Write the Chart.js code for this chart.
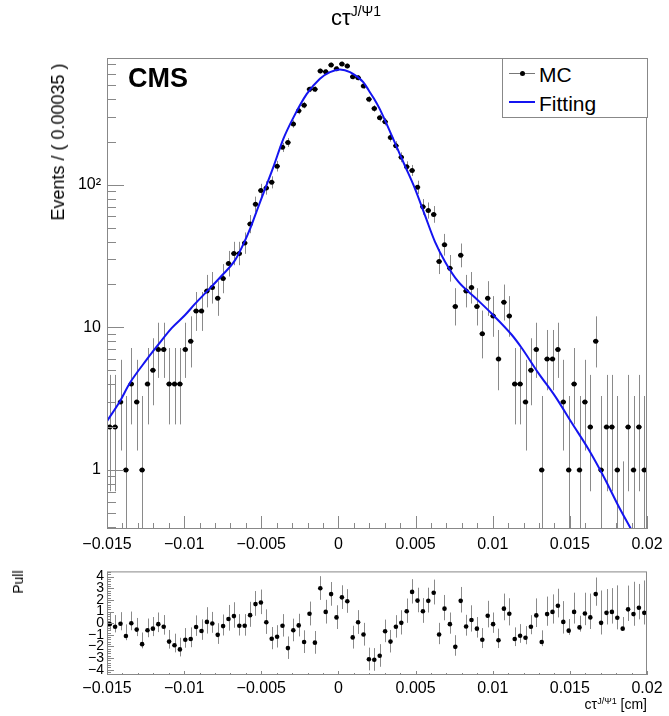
<!DOCTYPE html>
<html>
<head>
<meta charset="utf-8">
<script src="https://cdn.jsdelivr.net/npm/chart.js@4/dist/chart.umd.min.js"></script>
<style>
  body { margin: 0; background: #fff; width: 669px; height: 716px; position: relative; overflow: hidden;
         font-family: "Liberation Sans", Arial, sans-serif; }
  canvas { position: absolute; left: 0; }
  .t { position: absolute; white-space: nowrap; color: #000; line-height: 1; }
  .sup { position: relative; }
</style>
</head>
<body>
<canvas id="main" width="669" height="560" style="top:0"></canvas>
<canvas id="pull" width="669" height="156" style="top:560px"></canvas>

<div class="t" style="left:331px;top:7px;font-size:22px">cτ<span class="sup" style="font-size:14px;top:-9px">J/Ψ1</span></div>
<div class="t" style="left:128px;top:65px;font-size:27px;font-weight:bold">CMS</div>
<div class="t" style="left:58px;top:142px;font-size:18px;transform:translate(-50%,-50%) rotate(-90deg)">Events / ( 0.00035 )</div>
<div class="t" style="left:18px;top:582px;font-size:14px;transform:translate(-50%,-50%) rotate(-90deg)">Pull</div>
<div class="t" style="right:22px;top:697px;font-size:14px">cτ<span class="sup" style="font-size:9px;top:-5px">J/Ψ1</span> [cm]</div>

<div style="position:absolute;left:502px;top:58px;width:144px;height:58px;border:1px solid #888;background:#fff">
  <div style="position:absolute;left:6px;top:14px;width:26px;height:1px;background:#777"></div>
  <div style="position:absolute;left:17px;top:12px;width:5px;height:5px;border-radius:50%;background:#000"></div>
  <div class="t" style="left:36px;top:5px;font-size:21px">MC</div>
  <div style="position:absolute;left:6px;top:42px;width:26px;height:2px;background:#1414f0"></div>
  <div class="t" style="left:36px;top:34px;font-size:21px">Fitting</div>
</div>

<script>
/* ============================================================
   DATOS
============================================================ */
const X_MIN = -0.015;
const X_MAX = 0.02;
const BIN_LO = -0.015;
const BIN_WIDTH = 0.00035;

const X_TICKS = [-0.015, -0.01, -0.005, 0, 0.005, 0.01, 0.015, 0.02];
const X_TICK_LABELS = ["\u22120.015", "\u22120.01", "\u22120.005", "0", "0.005", "0.01", "0.015", "0.02"];

const Y_MIN = 0.385;
const Y_MAX = 775;
const Y_TICKS = [1, 10, 100];
const Y_TICK_LABELS = ["1", "10", "10\u00b2"];

const PULL_MIN = -4.45;
const PULL_MAX = 4.45;
const PULL_TICKS = [-4, -3, -2, -1, 0, 1, 2, 3, 4];
const PULL_TICK_LABELS = ["\u22124", "\u22123", "\u22122", "\u22121", "0", "1", "2", "3", "4"];

// eventos MC por bin (100 bins)
const COUNTS = [
    2, 2, 3, 1, 4, 3, 1, 4, 5, 7,
    7, 4, 4, 4, 7, 8, 13, 13, 18, 19,
    16, 22, 28, 33, 33, 39, 53, 73, 91, 95,
    104, 135, 183, 198, 267, 330, 362, 468, 468, 628,
    620, 692, 652, 703, 681, 573, 564, 493, 398, 343,
    295, 277, 215, 188, 156, 134, 126, 96, 70, 66,
    62, 29, 38, 26, 14, 32, 18, 19, 14, 9,
    16, 12, 6, 15, 12, 4, 4, 3, 5, 7,
    1, 6, 6, 7, 3, 1, 4, 1, 3, 2,
    8, 1, 2, 2, 1, 0, 2, 1, 2, 1
];

// pull por bin
const PULLS = [
    -0.08, -0.3, -0.05, -1.1, 0.0, -0.55, -1.8, -0.6, -0.47, -0.08,
    -0.3, -1.58, -1.9, -2.25, -1.42, -1.36, -0.33, -0.67, 0.11, -0.03,
    -1.0, -0.25, 0.36, 0.61, -0.22, -0.22, 0.69, 1.64, 1.78, 0.08,
    -1.33, -1.17, -0.22, -2.14, -0.61, -0.19, -1.61, 0.81, -1.67, 3.0,
    0.97, 2.5, 0.5, 2.22, 1.89, -1.22, 0.08, -0.97, -3.1, -3.14,
    -2.8, -0.69, -1.58, -0.31, 0.03, 1.03, 2.69, 1.94, 1.03, 1.92,
    2.61, -0.97, 1.25, -0.08, -2.03, 1.92, -0.28, 0.28, -0.47, -1.42,
    0.64, -0.08, -1.47, 1.25, 0.81, -1.36, -1.08, -1.25, -0.31, 0.67,
    -1.61, 0.78, 0.97, 1.5, 0.11, -0.64, 0.97, -0.36, 0.83, 0.5,
    2.5, 0.03, 0.89, 0.97, 0.47, -0.47, 1.19, 0.78, 1.33, 0.89
];

// curva de ajuste (puntos leídos sobre la línea azul)
const FIT_X = [
    -0.015, -0.01416, -0.01351, -0.01243, -0.01168, -0.01081, -0.00994, -0.0093, -0.00843, -0.00757,
    -0.0067, -0.00606, -0.00573, -0.0054, -0.00508, -0.00422, -0.00357, -0.00292, -0.00206, -0.0012,
    -0.00055, 0.0001, 0.00075, 0.00161, 0.00196, 0.00231, 0.00265, 0.00302, 0.00367, 0.00431,
    0.00496, 0.00561, 0.00626, 0.00691, 0.00777, 0.00885, 0.00993, 0.01123, 0.01188, 0.01295,
    0.01404, 0.01512, 0.0162, 0.01728, 0.01814, 0.01896, 0.02
];
const FIT_Y = [
    2.2, 3.03, 4.08, 5.93, 7.55, 9.87, 12.2, 14.6, 18.3, 23,
    29.6, 40.5, 49, 61, 75.6, 133, 210, 296, 432, 555,
    617, 644, 617, 525, 460, 401, 345, 283, 196, 136,
    94, 61, 39.8, 28.9, 20.9, 16.2, 12.5, 8.87, 7.16, 4.79,
    3.29, 2.14, 1.4, 0.86, 0.56, 0.385, 0.24
];

const FRAME_COLOR = "#888";
const BAR_COLOR = "#8a8a8a";
const FIT_COLOR = "#1414f0";
const FONT = "'Liberation Sans', Arial, sans-serif";

/* ============================================================
   INTERVALO POISSON (estilo RooHistError, 1 sigma)
============================================================ */
function poissonCdf(n, mu) {
    let term = Math.exp(-mu), sum = term;
    for (let k = 1; k <= n; k++) { term *= mu / k; sum += term; }
    return sum;
}

function solveMu(n, target) {
    let a = 0, b = n + 30 + 10 * Math.sqrt(n + 1);
    for (let it = 0; it < 80; it++) {
        const m = (a + b) / 2;
        if (poissonCdf(n, m) > target) a = m; else b = m;
    }
    return (a + b) / 2;
}

function poissonInterval(n) {
    if (n === 0) return [0, solveMu(0, 0.3173)];
    if (n > 100) {
        const s = Math.sqrt(n + 0.25);
        return [n - s + 0.5, n + s + 0.5];
    }
    return [solveMu(n - 1, 0.84135), solveMu(n, 0.15865)];
}

const binCenters = COUNTS.map((_, i) => BIN_LO + (i + 0.5) * BIN_WIDTH);
const intervals = COUNTS.map(n => poissonInterval(n));

const mcPoints = COUNTS.map((n, i) => ({ x: binCenters[i], y: n > 0 ? n : null }));
const fitPoints = FIT_X.map((x, i) => ({ x, y: FIT_Y[i] }));
const pullPoints = PULLS.map((p, i) => ({ x: binCenters[i], y: p }));

// barras del pull: normalizadas como en RooFit
const pullBars = PULLS.map((p, i) => {
    const n = COUNTS[i];
    const eLo = n - intervals[i][0];
    const eHi = intervals[i][1] - n;
    if (p > 0) return [p - 1, p + eHi / eLo];
    return [p - eLo / eHi, p + 1];
});

/* ============================================================
   PLUGINS: barras de error + marco con ticks hacia dentro
============================================================ */
function vLine(ctx, x, y1, y2) {
    ctx.moveTo(x, y1);
    ctx.lineTo(x, y2);
}

function clampY(a, y) {
    return Math.min(a.bottom, Math.max(a.top, y));
}

const mainBars = {
    id: "mainBars",
    beforeDatasetsDraw(chart) {
        const ctx = chart.ctx, a = chart.chartArea;
        const xs = chart.scales.x, ys = chart.scales.y;
        ctx.save();
        ctx.beginPath();
        ctx.rect(a.left, a.top, a.right - a.left, a.bottom - a.top);
        ctx.clip();

        ctx.strokeStyle = BAR_COLOR;
        ctx.lineWidth = 1;
        ctx.beginPath();
        COUNTS.forEach((n, i) => {
            const px = Math.round(xs.getPixelForValue(binCenters[i])) + 0.5;
            const lo = intervals[i][0], hi = intervals[i][1];
            const yTop = clampY(a, ys.getPixelForValue(hi));
            const yBot = lo > Y_MIN ? clampY(a, ys.getPixelForValue(lo)) : a.bottom;
            vLine(ctx, px, yTop, yBot);
        });
        ctx.stroke();

        ctx.strokeStyle = "#000";
        ctx.lineWidth = 1.5;
        ctx.beginPath();
        COUNTS.forEach((n, i) => {
            if (n <= 0) return;
            const py = ys.getPixelForValue(n);
            ctx.moveTo(xs.getPixelForValue(binCenters[i] - BIN_WIDTH / 2), py);
            ctx.lineTo(xs.getPixelForValue(binCenters[i] + BIN_WIDTH / 2), py);
        });
        ctx.stroke();
        ctx.restore();
    }
};

const pullBarsPlugin = {
    id: "pullBars",
    beforeDatasetsDraw(chart) {
        const ctx = chart.ctx, a = chart.chartArea;
        const xs = chart.scales.x, ys = chart.scales.y;
        ctx.save();
        ctx.strokeStyle = BAR_COLOR;
        ctx.lineWidth = 1;
        ctx.beginPath();
        pullBars.forEach((b, i) => {
            const px = Math.round(xs.getPixelForValue(binCenters[i])) + 0.5;
            vLine(ctx, px, clampY(a, ys.getPixelForValue(b[1])), clampY(a, ys.getPixelForValue(b[0])));
        });
        ctx.stroke();
        ctx.restore();
    }
};

function range(from, to, step) {
    const out = [];
    const n = Math.round((to - from) / step);
    for (let k = 0; k <= n; k++) out.push(from + k * step);
    return out;
}

const X_MINOR = range(X_MIN, X_MAX, 0.001);
const Y_MINOR = [];
[0.1, 1, 10, 100].forEach(d => {
    for (let k = 2; k <= 9; k++) {
        const v = k * d;
        if (v > Y_MIN && v < Y_MAX) Y_MINOR.push(v);
    }
});
const PULL_MINOR = range(-4.4, 4.4, 0.2);

function makeFrame(cfg) {
    return {
        id: "rootFrame",
        afterDraw(chart) {
            const ctx = chart.ctx, a = chart.chartArea;
            const xs = chart.scales.x, ys = chart.scales.y;
            ctx.save();
            ctx.strokeStyle = FRAME_COLOR;
            ctx.lineWidth = 1;
            ctx.strokeRect(a.left + 0.5, a.top + 0.5, a.right - a.left - 1, a.bottom - a.top - 1);
            ctx.beginPath();
            cfg.xMinor.forEach(v => {
                const px = Math.round(xs.getPixelForValue(v)) + 0.5;
                const len = cfg.xMajor.some(m => Math.abs(m - v) < 1e-9) ? cfg.xMajorLen : cfg.xMinorLen;
                vLine(ctx, px, a.bottom, a.bottom - len);
            });
            cfg.yMajor.forEach(v => {
                const py = Math.round(ys.getPixelForValue(v)) + 0.5;
                ctx.moveTo(a.left, py);
                ctx.lineTo(a.left + cfg.yMajorLen, py);
            });
            cfg.yMinor.forEach(v => {
                const py = Math.round(ys.getPixelForValue(v)) + 0.5;
                if (py < a.top || py > a.bottom) return;
                ctx.moveTo(a.left, py);
                ctx.lineTo(a.left + cfg.yMinorLen, py);
            });
            ctx.stroke();
            ctx.restore();
        }
    };
}

/* ============================================================
   GRÁFICO PRINCIPAL
============================================================ */
new Chart(document.getElementById("main"), {
    type: "scatter",
    data: {
        datasets: [
            {
                label: "Fitting",
                data: fitPoints,
                showLine: true,
                pointRadius: 0,
                borderColor: FIT_COLOR,
                borderWidth: 2,
                cubicInterpolationMode: "monotone",
                order: 0
            },
            {
                label: "MC",
                data: mcPoints,
                showLine: false,
                pointRadius: 2.5,
                pointBackgroundColor: "#000",
                pointBorderWidth: 0,
                order: 1
            }
        ]
    },
    options: {
        responsive: false,
        animation: false,
        events: [],
        layout: { padding: { top: 58, right: 22, left: 0, bottom: 0 } },
        plugins: { legend: { display: false }, tooltip: { enabled: false } },
        scales: {
            x: {
                type: "linear",
                min: X_MIN,
                max: X_MAX,
                grid: { display: false, drawTicks: false },
                border: { display: false },
                afterBuildTicks: s => { s.ticks = X_TICKS.map(v => ({ value: v })); },
                afterFit: s => { s.height = 31; },
                ticks: {
                    color: "#000",
                    font: { size: 16, family: FONT },
                    padding: 6,
                    maxRotation: 0,
                    autoSkip: false,
                    callback: (v, i) => X_TICK_LABELS[i]
                }
            },
            y: {
                type: "logarithmic",
                min: Y_MIN,
                max: Y_MAX,
                grid: { display: false, drawTicks: false },
                border: { display: false },
                afterBuildTicks: s => { s.ticks = Y_TICKS.map(v => ({ value: v })); },
                afterFit: s => { s.width = 107; },
                ticks: {
                    color: "#000",
                    font: { size: 16, family: FONT },
                    padding: 6,
                    autoSkip: false,
                    callback: (v, i) => Y_TICK_LABELS[i]
                }
            }
        }
    },
    plugins: [mainBars, makeFrame({
        xMajor: X_TICKS, xMinor: X_MINOR, xMajorLen: 13, xMinorLen: 6,
        yMajor: Y_TICKS, yMinor: Y_MINOR, yMajorLen: 17, yMinorLen: 9
    })]
});

/* ============================================================
   PANEL PULL
============================================================ */
new Chart(document.getElementById("pull"), {
    type: "scatter",
    data: {
        datasets: [{
            label: "Pull",
            data: pullPoints,
            showLine: false,
            pointRadius: 2.3,
            pointBackgroundColor: "#000",
            pointBorderWidth: 0
        }]
    },
    options: {
        responsive: false,
        animation: false,
        events: [],
        layout: { padding: { top: 8, right: 22, left: 0, bottom: 0 } },
        plugins: { legend: { display: false }, tooltip: { enabled: false } },
        scales: {
            x: {
                type: "linear",
                min: X_MIN,
                max: X_MAX,
                grid: { display: false, drawTicks: false },
                border: { display: false },
                afterBuildTicks: s => { s.ticks = X_TICKS.map(v => ({ value: v })); },
                afterFit: s => { s.height = 41; },
                ticks: {
                    color: "#000",
                    font: { size: 16, family: FONT },
                    padding: 4,
                    maxRotation: 0,
                    autoSkip: false,
                    callback: (v, i) => X_TICK_LABELS[i]
                }
            },
            y: {
                type: "linear",
                min: PULL_MIN,
                max: PULL_MAX,
                grid: { display: false, drawTicks: false },
                border: { display: false },
                afterBuildTicks: s => { s.ticks = PULL_TICKS.map(v => ({ value: v })); },
                afterFit: s => { s.width = 107; },
                ticks: {
                    color: "#000",
                    font: { size: 14, family: FONT },
                    padding: 3,
                    autoSkip: false,
                    callback: (v, i) => PULL_TICK_LABELS[i]
                }
            }
        }
    },
    plugins: [pullBarsPlugin, makeFrame({
        xMajor: X_TICKS, xMinor: X_MINOR, xMajorLen: 4, xMinorLen: 2,
        yMajor: PULL_TICKS, yMinor: PULL_MINOR, yMajorLen: 7, yMinorLen: 4
    })]
});
</script>
</body>
</html>
